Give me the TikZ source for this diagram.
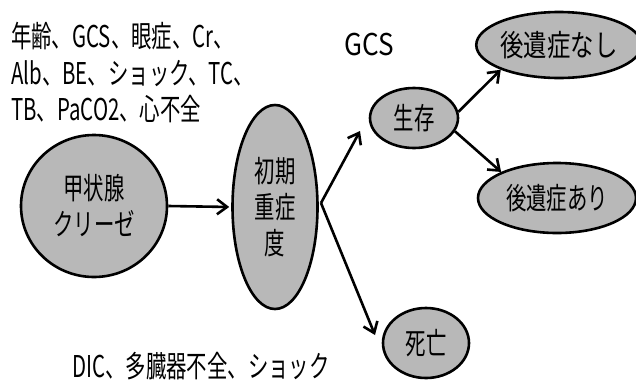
\documentclass[tikz,border=0pt]{standalone}
\usepackage{fontspec}
\usetikzlibrary{shapes.geometric,arrows.meta}
\newfontfamily\jp[FakeStretch=0.68]{Noto Sans CJK JP}
\newfontfamily\jpw[FakeStretch=0.78]{Noto Sans CJK JP}
\newfontfamily\jpg[FakeStretch=0.87]{Noto Sans CJK JP}
\tikzset{
  ell/.style={ellipse,draw=black,line width=2.6pt,fill=black!28,inner sep=0pt,align=center,
    font=\jp\fontsize{30}{36}\selectfont},
  lbl/.style={inner sep=0pt,anchor=base west,font=\jp\fontsize{30}{36}\selectfont},
  arr/.style={line width=2.6pt,-{Straight Barb[length=10pt,width=15pt,line width=2.6pt]}}
}
\begin{document}
\begin{tikzpicture}[x=1pt,y=-1pt]
\useasboundingbox (0,0) rectangle (636,381);
\node[lbl] (f1) at (11,47) {年齢、GCS、眼症、Cr、};
\node[lbl] (f2) at (11,84) {Alb、BE、ショック、TC、};
\node[lbl] (f3) at (11,120) {TB、PaCO2、心不全};
\node[lbl,font=\jpg\fontsize{30}{36}\selectfont] (gcs) at (344,55) {GCS};
\node[lbl] (late) at (72,377) {DIC、多臓器不全、ショック};
\node[ell,minimum width=146pt,minimum height=142pt] (crisis) at (94,206) {甲状腺\\クリーゼ};
\node[ell,minimum width=85pt,minimum height=204pt] (sev) at (275,207) {初期\\重症\\度};
\node[ell,minimum width=88pt,minimum height=60pt] (alive) at (414,118) {生存};
\node[ell,minimum width=156pt,minimum height=66pt,font=\jpw\fontsize{30}{36}\selectfont] (nos) at (559,45) {後遺症なし};
\node[ell,minimum width=158pt,minimum height=70pt] (yes) at (557,198) {後遺症あり};
\node[ell,minimum width=86pt,minimum height=70pt] (dead) at (426,343) {死亡};
\coordinate (fork) at (321,203);
\coordinate (upend) at (360,131);
\coordinate (downend) at (375,335);
\draw[arr,shorten >=2pt] (crisis.east) -- (sev.west);
\draw[arr] (fork) -- (upend);
\draw[arr] (fork) -- (downend);
\draw[arr] (alive.8) -- (nos.203);
\draw[arr] (alive.-18) -- (yes.155);
\end{tikzpicture}
\end{document}
